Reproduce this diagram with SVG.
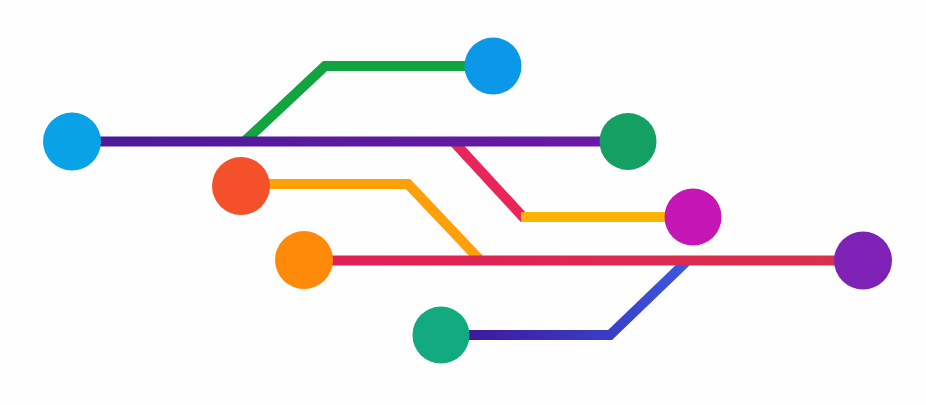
<svg xmlns="http://www.w3.org/2000/svg" width="926" height="405" viewBox="0 0 926 405">
<style>
.ln{fill:none;stroke-width:10;stroke-linecap:butt;stroke-linejoin:miter}
</style>
<defs>
<linearGradient id="gPurple" gradientUnits="userSpaceOnUse" x1="95" y1="0" x2="605" y2="0"><stop offset="0" stop-color="#4c1a98"/><stop offset="1" stop-color="#6a1aa6"/></linearGradient>
<linearGradient id="gBottom" gradientUnits="userSpaceOnUse" x1="470" y1="335" x2="690" y2="265"><stop offset="0" stop-color="#3d1a9e"/><stop offset="0.6" stop-color="#3a3fc8"/><stop offset="1" stop-color="#3d5ae0"/></linearGradient>
<linearGradient id="gRedH" gradientUnits="userSpaceOnUse" x1="325" y1="0" x2="840" y2="0"><stop offset="0" stop-color="#e21e55"/><stop offset="1" stop-color="#d8304c"/></linearGradient>
</defs>
<rect width="926" height="405" fill="#fefefe"/>
<g id="connectors">
<polyline class="ln" stroke="#12a43e" points="245,141 325,66 470,66"/>
<polyline class="ln" stroke="#e8265a" points="453,141 523,217 530,217"/>
<polyline class="ln" stroke="#ffb400" points="521,217 670,217"/>
<polyline class="ln" stroke="#ff9f0a" points="260,184 408,184 480,260"/>
<polyline class="ln" stroke="url(#gBottom)" points="465,335 610,335 686,262"/>
<line class="ln" stroke="url(#gPurple)" x1="95" y1="141.5" x2="605" y2="141.5"/>
<line class="ln" stroke="url(#gRedH)" x1="325" y1="260.5" x2="840" y2="260.5"/>
</g>
<g id="n-blue-left"><circle cx="72" cy="141.5" r="29" fill="#0aa2e6"/></g>
<g id="n-blue-top"><circle cx="493" cy="66" r="28.5" fill="#0b98e8"/></g>
<g id="n-green-right"><circle cx="628" cy="141.5" r="28.5" fill="#13a062"/></g>
<g id="n-red"><circle cx="241" cy="186" r="29" fill="#f4502a"/></g>
<g id="n-magenta"><circle cx="693" cy="217" r="28.5" fill="#c615b5"/></g>
<g id="n-orange"><circle cx="304" cy="260" r="29" fill="#ff8a0a"/></g>
<g id="n-purple-right"><circle cx="863" cy="260.5" r="29" fill="#7e22b5"/></g>
<g id="n-green-bottom"><circle cx="441" cy="335" r="28.5" fill="#14aa80"/></g>
</svg>
